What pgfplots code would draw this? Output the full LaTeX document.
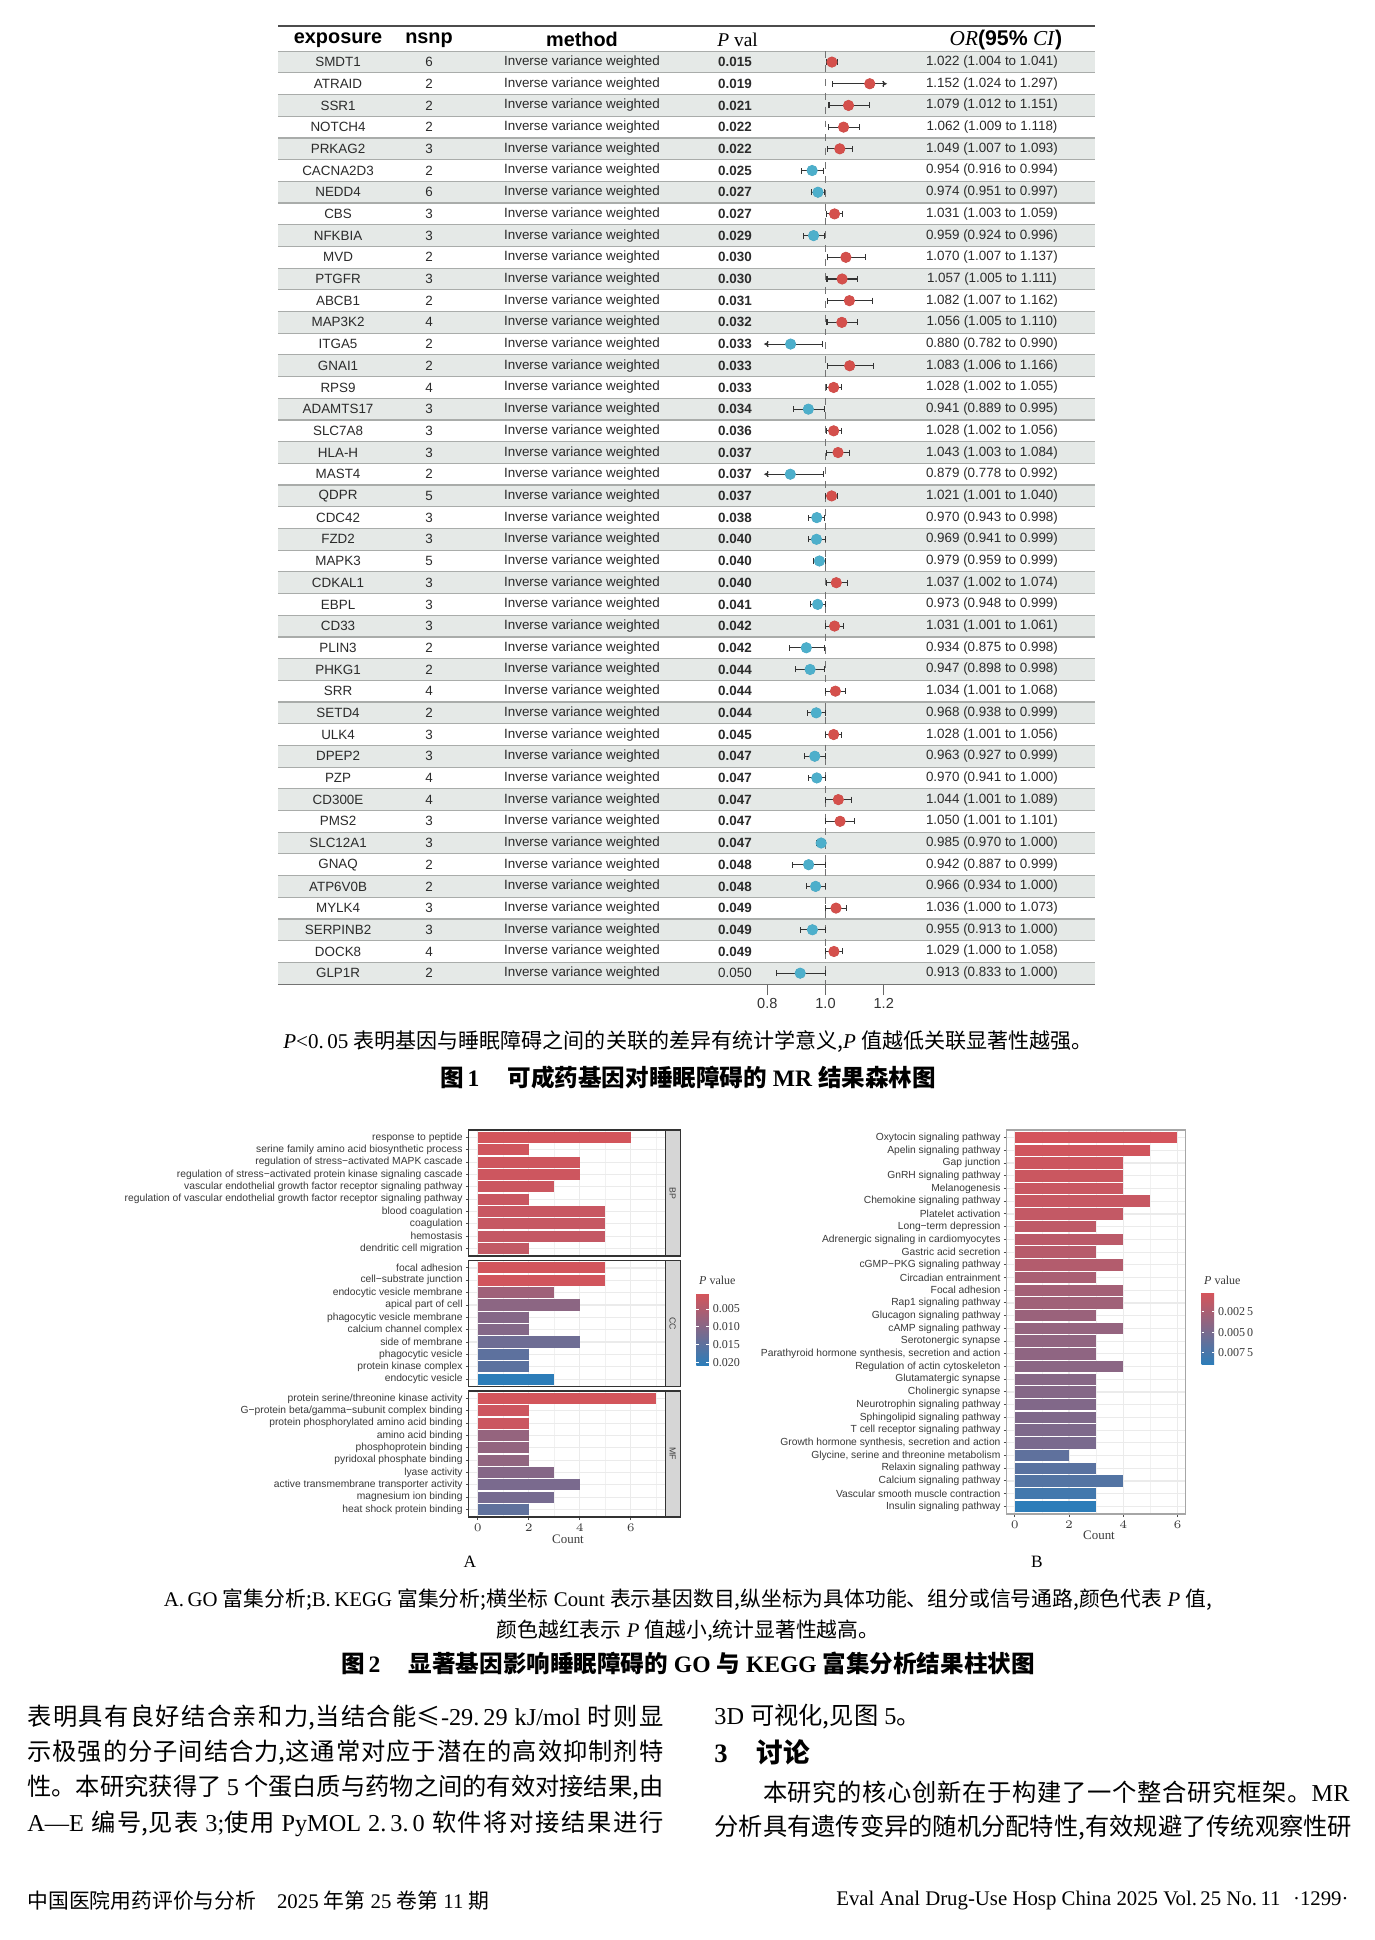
\documentclass[border=0pt]{standalone}
\usepackage{fontspec}
\setmainfont{Liberation Serif}
\setsansfont{Liberation Sans}
\newfontfamily\cjk{Noto Sans CJK SC}
\usepackage{pgfplots}
\pgfplotsset{compat=1.18}
\usepackage{pgfplotstable}
\usetikzlibrary{arrows.meta}

\newlength\pu
\setlength\pu{0.4327pt}
\newcommand\px[1]{\the\dimexpr#1\pu\relax}
\newcommand\zh[1]{{\cjk #1}}
\newcommand\fs[1]{\fontsize{#1}{#1}\selectfont}

% stretchable glue between CJK characters, so a line can be justified in an \hbox
\XeTeXinterchartokenstate=1
\newXeTeXintercharclass\cjkc
\count255="4E00
\loop\ifnum\count255<"A000 \XeTeXcharclass\count255=\cjkc \advance\count255 by 1 \repeat
\count255="3000
\loop\ifnum\count255<"3040 \XeTeXcharclass\count255=\cjkc \advance\count255 by 1 \repeat
\XeTeXinterchartoks\cjkc\cjkc={\hskip0pt plus 2pt\relax}

\definecolor{dotred}{HTML}{D4504C}
\definecolor{dotblue}{HTML}{4DAFCB}
\definecolor{rowgray}{HTML}{E5E9E7}
\definecolor{rowline}{HTML}{A9ACAA}
\definecolor{txt}{HTML}{2B2B2B}
\definecolor{axtxt}{HTML}{3A3A3A}
\definecolor{gridc}{HTML}{EBEBEB}
\definecolor{stripc}{HTML}{D6D6D6}
\pgfplotsset{colormap={pval}{rgb255=(214,84,90) rgb255=(44,125,185)}}

% horizontal bars drawn as marks, so each one takes its own mapped colour
\pgfdeclareplotmark{hbarA}{\pgfpathrectangle{\pgfpoint{-\nval*11.0366pt}{-2.405pt}}{\pgfpoint{\nval*11.0366pt}{4.81pt}}\pgfusepathqfill}
\pgfdeclareplotmark{hbarB}{\pgfpathrectangle{\pgfpoint{-\nval*11.729pt}{-2.476pt}}{\pgfpoint{\nval*11.729pt}{4.952pt}}\pgfusepathqfill}

% forest plot: row, exposure, nsnp, P, OR, lower, upper, side
\pgfplotstableread{
row name n p or lo hi c
1 SMDT1 6 0.015 1.022 1.004 1.041 r
2 ATRAID 2 0.019 1.152 1.024 1.297 r
3 SSR1 2 0.021 1.079 1.012 1.151 r
4 NOTCH4 2 0.022 1.062 1.009 1.118 r
5 PRKAG2 3 0.022 1.049 1.007 1.093 r
6 CACNA2D3 2 0.025 0.954 0.916 0.994 b
7 NEDD4 6 0.027 0.974 0.951 0.997 b
8 CBS 3 0.027 1.031 1.003 1.059 r
9 NFKBIA 3 0.029 0.959 0.924 0.996 b
10 MVD 2 0.030 1.070 1.007 1.137 r
11 PTGFR 3 0.030 1.057 1.005 1.111 r
12 ABCB1 2 0.031 1.082 1.007 1.162 r
13 MAP3K2 4 0.032 1.056 1.005 1.110 r
14 ITGA5 2 0.033 0.880 0.782 0.990 b
15 GNAI1 2 0.033 1.083 1.006 1.166 r
16 RPS9 4 0.033 1.028 1.002 1.055 r
17 ADAMTS17 3 0.034 0.941 0.889 0.995 b
18 SLC7A8 3 0.036 1.028 1.002 1.056 r
19 HLA-H 3 0.037 1.043 1.003 1.084 r
20 MAST4 2 0.037 0.879 0.778 0.992 b
21 QDPR 5 0.037 1.021 1.001 1.040 r
22 CDC42 3 0.038 0.970 0.943 0.998 b
23 FZD2 3 0.040 0.969 0.941 0.999 b
24 MAPK3 5 0.040 0.979 0.959 0.999 b
25 CDKAL1 3 0.040 1.037 1.002 1.074 r
26 EBPL 3 0.041 0.973 0.948 0.999 b
27 CD33 3 0.042 1.031 1.001 1.061 r
28 PLIN3 2 0.042 0.934 0.875 0.998 b
29 PHKG1 2 0.044 0.947 0.898 0.998 b
30 SRR 4 0.044 1.034 1.001 1.068 r
31 SETD4 2 0.044 0.968 0.938 0.999 b
32 ULK4 3 0.045 1.028 1.001 1.056 r
33 DPEP2 3 0.047 0.963 0.927 0.999 b
34 PZP 4 0.047 0.970 0.941 1.000 b
35 CD300E 4 0.047 1.044 1.001 1.089 r
36 PMS2 3 0.047 1.050 1.001 1.101 r
37 SLC12A1 3 0.047 0.985 0.970 1.000 b
38 GNAQ 2 0.048 0.942 0.887 0.999 b
39 ATP6V0B 2 0.048 0.966 0.934 1.000 b
40 MYLK4 3 0.049 1.036 1.000 1.073 r
41 SERPINB2 3 0.049 0.955 0.913 1.000 b
42 DOCK8 4 0.049 1.029 1.000 1.058 r
43 GLP1R 2 \mdseries0.050 0.913 0.833 1.000 b
}\fdata

% GO facets, listed from the bottom bar up
\pgfplotstableread[col sep=semicolon]{
i;n;p;label
1;2;0.0028;dendritic cell migration
2;5;0.0026;hemostasis
3;5;0.0024;coagulation
4;5;0.0022;blood coagulation
5;2;0.0020;regulation of vascular endothelial growth factor receptor signaling pathway
6;3;0.0018;vascular endothelial growth factor receptor signaling pathway
7;4;0.0016;regulation of stress−activated protein kinase signaling cascade
8;4;0.0014;regulation of stress−activated MAPK cascade
9;2;0.0012;serine family amino acid biosynthetic process
10;6;0.0008;response to peptide
}\bpT
\pgfplotstableread[col sep=semicolon]{
i;n;p;label
1;3;0.0205;endocytic vesicle
2;2;0.0150;protein kinase complex
3;2;0.0148;phagocytic vesicle
4;4;0.0128;side of membrane
5;2;0.0102;calcium channel complex
6;2;0.0100;phagocytic vesicle membrane
7;4;0.0092;apical part of cell
8;3;0.0070;endocytic vesicle membrane
9;5;0.0011;cell−substrate junction
10;5;0.0010;focal adhesion
}\ccT
\pgfplotstableread[col sep=semicolon]{
i;n;p;label
1;2;0.0145;heat shock protein binding
2;3;0.0118;magnesium ion binding
3;4;0.0114;active transmembrane transporter activity
4;3;0.0100;lyase activity
5;2;0.0086;pyridoxal phosphate binding
6;2;0.0084;phosphoprotein binding
7;2;0.0082;amino acid binding
8;2;0.0018;protein phosphorylated amino acid binding
9;2;0.0016;G−protein beta/gamma−subunit complex binding
10;7;0.0008;protein serine/threonine kinase activity
}\mfT
\pgfplotstableread[col sep=semicolon]{
i;n;p;label
1;3;0.0089;Insulin signaling pathway
2;3;0.0078;Vascular smooth muscle contraction
3;4;0.0069;Calcium signaling pathway
4;3;0.0066;Relaxin signaling pathway
5;2;0.0063;Glycine{,} serine and threonine metabolism
6;3;0.0049;Growth hormone synthesis{,} secretion and action
7;3;0.0047;T cell receptor signaling pathway
8;3;0.0046;Sphingolipid signaling pathway
9;3;0.0045;Neurotrophin signaling pathway
10;3;0.0043;Cholinergic synapse
11;3;0.0042;Glutamatergic synapse
12;4;0.0040;Regulation of actin cytoskeleton
13;3;0.0038;Parathyroid hormone synthesis{,} secretion and action
14;3;0.0037;Serotonergic synapse
15;4;0.0035;cAMP signaling pathway
16;3;0.0032;Glucagon signaling pathway
17;4;0.0029;Rap1 signaling pathway
18;4;0.0027;Focal adhesion
19;3;0.0024;Circadian entrainment
20;4;0.0019;cGMP−PKG signaling pathway
21;3;0.0017;Gastric acid secretion
22;4;0.0015;Adrenergic signaling in cardiomyocytes
23;3;0.0013;Long−term depression
24;4;0.0011;Platelet activation
25;5;0.0009;Chemokine signaling pathway
26;4;0.0008;Melanogenesis
27;4;0.0007;GnRH signaling pathway
28;4;0.0006;Gap junction
29;5;0.0004;Apelin signaling pathway
30;6;0.0002;Oxytocin signaling pathway
}\keggT

\pgfplotsset{
  gobar/.style={
    scale only axis, anchor=north west,
    width=\px{196.4}, height=\px{126},
    xmin=-0.35, xmax=7.35, ymin=0.4, ymax=10.6,
    ytick={1,...,10}, xtick={0,2,4,6}, minor xtick={1,3,5,7},
    xmajorgrids, xminorgrids, ymajorgrids,
    grid style={draw=gridc, line width=0.5pt},
    minor grid style={draw=gridc!70, line width=0.3pt},
    tick pos=left, tick align=outside, major tick length=\px{3}, minor tick length=0pt,
    tick style={draw=black!70, line width=0.4pt},
    axis line style={draw=black!80, line width=0.5pt},
    yticklabel style={font=\sffamily\fs{4.45}, text=axtxt, inner sep=1.2pt},
    xticklabel style={font=\fs{5.2}, text=axtxt, inner sep=1.5pt},
    colormap name=pval, point meta min=0.0005, point meta max=0.0207,
  },
  cbar/.style={
    scale only axis, width=\px{12.5}, height=\px{72},
    y dir=reverse, scaled y ticks=false,
    yticklabel style={font=\fs{5.2}, text=axtxt, inner sep=1.5pt},
    ytick style={draw=white, line width=0.4pt},
    major tick length=\px{2.5},
    axis line style={draw=none},
  },
}

\begin{document}
\begin{tikzpicture}[x=0.4327pt, y=-0.4327pt]
\fill[white] (0,0) rectangle (1375,1940);
\path[use as bounding box] (0,0) rectangle (1375,1940);

% ---------------- Figure 1: forest plot ----------------
\begin{axis}[
  at={(\px{278},-\px{26})}, anchor=north west,
  scale only axis, width=\px{817}, height=\px{958},
  xmin=-0.8814, xmax=1.926, ymin=-43.5, ymax=0.662,
  axis x line*=bottom, axis y line=none,
  x axis line style={-, draw=black!55, line width=0.9pt},
  xtick={0.8,1,1.2}, xticklabels={0.8,1.0,1.2},
  tick align=outside, major tick length=\px{11},
  xtick style={draw=black!60, line width=0.5pt},
  xticklabel style={font=\sffamily\fs{6.3}, text=black!80, yshift=2pt},
  clip=false,
]
\pgfplotsinvokeforeach{1,3,...,43}{
  \fill[rowgray] (axis cs:-0.8814,{-#1+0.5}) rectangle (axis cs:1.926,{-#1-0.5});
}
\pgfplotsinvokeforeach{0,...,42}{
  \draw[rowline, line width=0.5pt] (axis cs:-0.8814,{-#1-0.5}) -- (axis cs:1.926,{-#1-0.5});
}
\draw[black!70, line width=1pt] (axis cs:-0.8814,0.662) -- (axis cs:1.926,0.662);
\draw[black!55, dashed, line width=0.4pt] (axis cs:1,-0.5) -- (axis cs:1,-43.5);

% header
\node[font=\sffamily\bfseries\fs{8.6}] at (axis cs:-0.675,0.03) {exposure};
\node[font=\sffamily\bfseries\fs{8.6}] at (axis cs:-0.3625,0.03) {nsnp};
\node[font=\sffamily\bfseries\fs{8.6}] at (axis cs:0.1632,0.03) {method};
\node[font=\fs{8.4}] at (axis cs:0.698,0.03) {\textit{P} val};
\node[font=\fs{9.2}] at (axis cs:1.62,0.03) {\textit{OR}{\sffamily\bfseries(95\%} \textit{CI}{\sffamily\bfseries)}};

% table columns
\addplot[only marks, mark=none, point meta=explicit symbolic, nodes near coords,
  every node near coord/.append style={anchor=center, font=\sffamily\fs{5.8}, text=txt}]
  table[x expr=-0.675, y expr=-\thisrow{row}, meta=name]{\fdata};
\addplot[only marks, mark=none, point meta=explicit symbolic, nodes near coords,
  every node near coord/.append style={anchor=center, font=\sffamily\fs{5.8}, text=txt}]
  table[x expr=-0.3625, y expr=-\thisrow{row}, meta=n]{\fdata};
\addplot[only marks, mark=none, point meta=explicit symbolic, nodes near coords={Inverse variance weighted},
  every node near coord/.append style={anchor=center, font=\sffamily\fs{5.8}, text=txt}]
  table[x expr=0.1632, y expr=-\thisrow{row}, meta=name]{\fdata};
\addplot[only marks, mark=none, point meta=explicit symbolic, nodes near coords,
  every node near coord/.append style={anchor=center, font=\sffamily\bfseries\fs{5.8}, text=txt}]
  table[x expr=0.689, y expr=-\thisrow{row}, meta=p]{\fdata};
\addplot[only marks, mark=none, point meta=explicit symbolic,
  visualization depends on={\thisrow{lo}\as\vlo},
  visualization depends on={\thisrow{hi}\as\vhi},
  nodes near coords={\pgfplotspointmeta\ (\pgfmathprintnumber[fixed,fixed zerofill,precision=3,assume math mode=true]{\vlo} to \pgfmathprintnumber[fixed,fixed zerofill,precision=3,assume math mode=true]{\vhi})},
  every node near coord/.append style={anchor=center, font=\sffamily\fs{5.8}, text=txt}]
  table[x expr=1.572, y expr=-\thisrow{row}, meta=or]{\fdata};

% confidence intervals (drawn range 0.8 to 1.2)
\addplot[only marks, mark=none,
  error bars/.cd, x dir=both, x explicit,
  error bar style={line width=0.45pt, black!80},
  error mark options={rotate=90, black!80, line width=0.45pt, mark size=1.3pt}]
  table[x=or, y expr=-\thisrow{row},
    x error plus expr={min(\thisrow{hi},1.2)-\thisrow{or}},
    x error minus expr={\thisrow{or}-max(\thisrow{lo},0.8)}]{\fdata};
\addplot[black!80, line width=0.45pt, -{Stealth[length=2.2pt,width=2.2pt]}] coordinates {(1.152,-2) (1.212,-2)};
\addplot[black!80, line width=0.45pt, -{Stealth[length=2.2pt,width=2.2pt]}] coordinates {(0.880,-14) (0.788,-14)};
\addplot[black!80, line width=0.45pt, -{Stealth[length=2.2pt,width=2.2pt]}] coordinates {(0.879,-20) (0.788,-20)};
\addplot[only marks, scatter, scatter src=explicit symbolic,
  scatter/classes={r={mark=*, fill=dotred, draw=dotred}, b={mark=*, fill=dotblue, draw=dotblue}},
  mark size=2.2pt]
  table[x=or, y expr=-\thisrow{row}, meta=c]{\fdata};
\end{axis}

\node[font=\fs{9.1}] at (688,1042) {\textit{P}<0.\,05 \zh{表明基因与睡眠障碍之间的关联的差异有统计学意义,}\textit{P} \zh{值越低关联显著性越强。}};
\node[font={\fs{10.2}\bfseries}] at (688,1078) {\zh{图}\,1\hspace{1.2em}\zh{可成药基因对睡眠障碍的} MR \zh{结果森林图}};

% ---------------- Figure 2A: GO ----------------
\begin{axis}[gobar, name=bp, at={(\px{468.8},-\px{1130})},
  xticklabels={}, xtick style={draw=none},
  yticklabels from table={\bpT}{label}]
\addplot[scatter, only marks, mark=hbarA, point meta=explicit,
  visualization depends on={\thisrow{n}\as\nval}] table[x=n, y=i, meta=p]{\bpT};
\end{axis}
\begin{axis}[gobar, name=cc, at={(\px{468.8},-\px{1260.5})},
  xticklabels={}, xtick style={draw=none},
  yticklabels from table={\ccT}{label},
  colorbar, colorbar style={cbar, at={(parent axis.east)}, anchor=west, xshift=\px{11.5}, yshift=-\px{5.5},
    ytick={0.005,0.010,0.015,0.020}, yticklabels={0.005,0.010,0.015,0.020}}]
\addplot[scatter, only marks, mark=hbarA, point meta=explicit,
  visualization depends on={\thisrow{n}\as\nval}] table[x=n, y=i, meta=p]{\ccT};
\end{axis}
\begin{axis}[gobar, name=mf, at={(\px{468.8},-\px{1391})},
  yticklabels from table={\mfT}{label}]
\addplot[scatter, only marks, mark=hbarA, point meta=explicit,
  visualization depends on={\thisrow{n}\as\nval}] table[x=n, y=i, meta=p]{\mfT};
\end{axis}
\foreach \ax/\lab in {bp/BP, cc/CC, mf/MF}{
  \draw[fill=stripc, draw=black!80, line width=0.5pt] (\ax.north east) rectangle ([xshift=\px{15}]\ax.south east);
  \node[rotate=-90, font=\sffamily\fs{3.8}, text=black!75] at ([xshift=\px{7.5}]\ax.east) {\lab};
}
\node[anchor=west, font=\fs{5.2}, text=axtxt] at (691,1280) {\textit{P} value};
\node[font=\fs{5.6}, text=axtxt] at (568,1539) {Count};
\node[font=\fs{7.5}] at (470,1562) {A};

% ---------------- Figure 2B: KEGG ----------------
\begin{axis}[gobar, name=kegg, at={(\px{1006.7},-\px{1130})},
  width=\px{178.9}, height=\px{384}, xmin=-0.3, xmax=6.3, ymin=0.4, ymax=30.6,
  ytick={1,...,30}, minor xtick={1,3,5},
  axis line style={draw=black!35, line width=0.5pt},
  point meta min=0.0001, point meta max=0.0090,
  yticklabels from table={\keggT}{label},
  colorbar, colorbar style={cbar, at={(parent axis.east)}, anchor=west, xshift=-\px{3.7}, yshift=-\px{6.5},
    ytick={0.0025,0.005,0.0075}, yticklabels={0.002\,5,0.005\,0,0.007\,5}}]
\addplot[scatter, only marks, mark=hbarB, point meta=explicit,
  visualization depends on={\thisrow{n}\as\nval}] table[x=n, y=i, meta=p]{\keggT};
\end{axis}
\node[anchor=west, font=\fs{5.2}, text=axtxt] at (1196,1280) {\textit{P} value};
\node[font=\fs{5.6}, text=axtxt] at (1099,1535) {Count};
\node[font=\fs{7.5}] at (1037,1562) {B};

% ---------------- captions ----------------
\node[font=\fs{9}] at (688,1600) {A.\,GO \zh{富集分析;}B.\,KEGG \zh{富集分析;横坐标} Count \zh{表示基因数目,纵坐标为具体功能、组分或信号通路,颜色代表} \textit{P} \zh{值,}};
\node[font=\fs{9}] at (688,1631) {\zh{颜色越红表示} \textit{P} \zh{值越小,统计显著性越高。}};
\node[font={\fs{10.2}\bfseries}] at (688,1663) {\zh{图}\,2\hspace{1.2em}\zh{显著基因影响睡眠障碍的} GO \zh{与} KEGG \zh{富集分析结果柱状图}};

% ---------------- body text ----------------
\tikzset{body/.style={anchor=west, inner sep=0pt, font=\fs{10.5}}}
\node[body] at (27,1717) {\hbox to \px{636}{\zh{表明具有良好结合亲和力,当结合能≤}-29.\,29 kJ/mol \zh{时则显}}};
\node[body] at (27,1752) {\hbox to \px{636}{\zh{示极强的分子间结合力,这通常对应于潜在的高效抑制剂特}}};
\node[body] at (27,1788) {\hbox to \px{636}{\zh{性。本研究获得了} 5 \zh{个蛋白质与药物之间的有效对接结果,由}}};
\node[body] at (27,1824) {\hbox to \px{636}{A—E \zh{编号,见表} 3;\zh{使用} PyMOL 2.\,3.\,0 \zh{软件将对接结果进行}}};
\node[body] at (714,1717) {3D \zh{可视化,见图} 5\zh{。}};
\node[body, font={\fs{11.5}\bfseries}] at (714,1752) {3\hspace{1.1em}\zh{讨论}};
\node[body] at (714,1792) {\hbox to \px{635}{\kern2em\zh{本研究的核心创新在于构建了一个整合研究框架。}MR}};
\node[body] at (714,1827) {\hbox to \px{635}{\zh{分析具有遗传变异的随机分配特性,有效规避了传统观察性研}}};

\node[body, font=\fs{9}] at (27,1901) {\zh{中国医院用药评价与分析}\hspace{1em}2025 \zh{年第} 25 \zh{卷第} 11 \zh{期}};
\node[anchor=east, inner sep=0pt, font=\fs{9}] at (1349,1901) {Eval Anal Drug-Use Hosp China 2025 Vol.\,25 No.\,11\hspace{0.6em}·1299·};
\end{tikzpicture}
\end{document}
